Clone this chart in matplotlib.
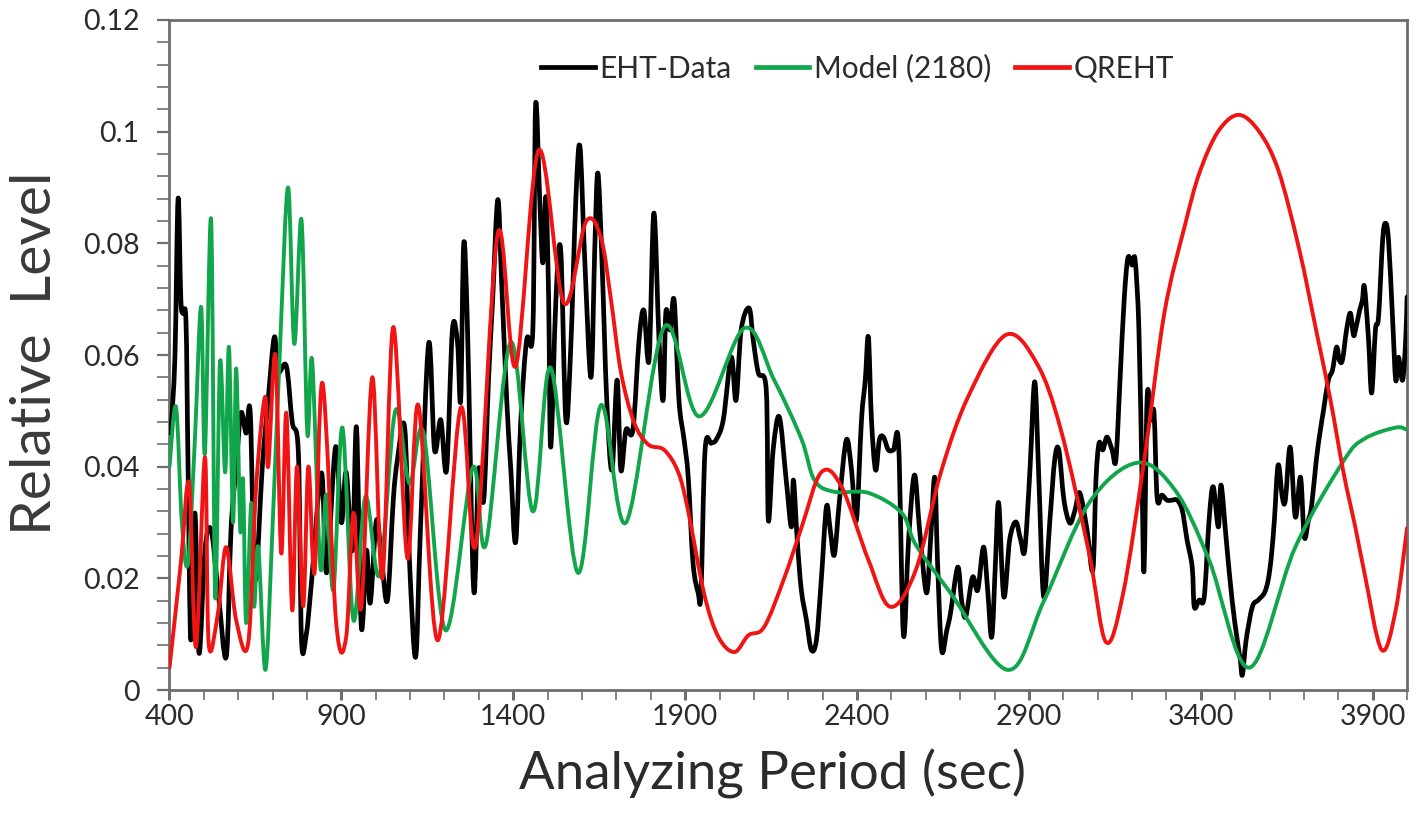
import numpy as np
import matplotlib
matplotlib.use("Agg")
import matplotlib.pyplot as plt
from matplotlib.path import Path
from matplotlib.patches import PathPatch
from matplotlib.lines import Line2D
from matplotlib.ticker import MultipleLocator, FuncFormatter

# ---- EHT data (analyzing period in sec, relative level) ----
eht_x = [404, 416, 425, 433, 439, 448, 454, 462, 474, 486,
         503, 521, 541, 565, 579, 594, 608, 623, 635, 649,
         670, 687, 705, 716, 740, 757, 775, 784, 798, 813,
         842, 857, 883, 900, 914, 932, 944, 958, 973, 984,
         1002, 1017, 1034, 1051, 1063, 1084, 1098, 1116, 1130, 1154,
         1171, 1189, 1206, 1223, 1238, 1247, 1256, 1267, 1285, 1299,
         1314, 1328, 1340, 1355, 1366, 1381, 1393, 1407, 1422, 1439,
         1457, 1465, 1477, 1486, 1495, 1503, 1509, 1524, 1538, 1553,
         1567, 1582, 1594, 1608, 1626, 1637, 1646, 1658, 1672, 1687,
         1702, 1713, 1728, 1748, 1766, 1780, 1795, 1809, 1824, 1836,
         1844, 1856, 1868, 1882, 1897, 1909, 1923, 1938, 1946, 1958,
         1976, 1990, 2011, 2034, 2048, 2063, 2086, 2098, 2113, 2136,
         2142, 2156, 2174, 2194, 2209, 2215, 2226, 2238, 2253, 2267,
         2282, 2296, 2311, 2322, 2334, 2349, 2369, 2384, 2398, 2413,
         2424, 2433, 2442, 2454, 2465, 2477, 2491, 2506, 2521, 2535,
         2550, 2567, 2582, 2602, 2614, 2626, 2634, 2646, 2661, 2672,
         2693, 2704, 2716, 2736, 2751, 2768, 2780, 2792, 2803, 2812,
         2827, 2844, 2862, 2876, 2888, 2903, 2917, 2929, 2943, 2961,
         2975, 2987, 3002, 3019, 3034, 3048, 3069, 3086, 3095, 3104,
         3115, 3127, 3142, 3153, 3165, 3177, 3188, 3200, 3209, 3220,
         3229, 3235, 3244, 3255, 3264, 3273, 3287, 3302, 3316, 3331,
         3346, 3360, 3375, 3381, 3395, 3410, 3424, 3436, 3451, 3459,
         3474, 3491, 3506, 3515, 3521, 3532, 3550, 3567, 3585, 3596,
         3605, 3614, 3625, 3637, 3646, 3660, 3675, 3690, 3701, 3713,
         3722, 3736, 3748, 3757, 3771, 3783, 3795, 3803, 3812, 3824,
         3835, 3844, 3850, 3862, 3870, 3876, 3888, 3897, 3908, 3917,
         3929, 3937, 3946, 3958, 3967, 3975, 3987, 3996, 4000]
eht_y = [0.0460, 0.0600, 0.0880, 0.0700, 0.0675, 0.0660, 0.0400, 0.0090, 0.0317, 0.0066,
         0.0250, 0.0287, 0.0180, 0.0059, 0.0287, 0.0400, 0.0496, 0.0460, 0.0496, 0.0197,
         0.0400, 0.0520, 0.0632, 0.0570, 0.0580, 0.0480, 0.0424, 0.0090, 0.0100, 0.0192,
         0.0389, 0.0210, 0.0435, 0.0300, 0.0390, 0.0250, 0.0470, 0.0113, 0.0250, 0.0156,
         0.0304, 0.0233, 0.0161, 0.0340, 0.0412, 0.0471, 0.0233, 0.0059, 0.0287, 0.0621,
         0.0430, 0.0484, 0.0394, 0.0645, 0.0621, 0.0519, 0.0800, 0.0645, 0.0179, 0.0394,
         0.0340, 0.0555, 0.0698, 0.0878, 0.0734, 0.0519, 0.0394, 0.0265, 0.0484, 0.0627,
         0.0645, 0.1047, 0.0878, 0.0765, 0.0883, 0.0698, 0.0435, 0.0698, 0.0788, 0.0484,
         0.0609, 0.0878, 0.0973, 0.0770, 0.0560, 0.0788, 0.0926, 0.0770, 0.0519, 0.0394,
         0.0555, 0.0394, 0.0466, 0.0466, 0.0627, 0.0680, 0.0591, 0.0854, 0.0627, 0.0519,
         0.0677, 0.0645, 0.0698, 0.0519, 0.0448, 0.0381, 0.0227, 0.0174, 0.0174, 0.0430,
         0.0442, 0.0448, 0.0484, 0.0596, 0.0519, 0.0645, 0.0684, 0.0627, 0.0568, 0.0537,
         0.0304, 0.0430, 0.0489, 0.0376, 0.0292, 0.0376, 0.0269, 0.0179, 0.0125, 0.0072,
         0.0090, 0.0197, 0.0328, 0.0287, 0.0242, 0.0340, 0.0448, 0.0394, 0.0304, 0.0484,
         0.0555, 0.0632, 0.0484, 0.0394, 0.0448, 0.0453, 0.0430, 0.0430, 0.0439, 0.0099,
         0.0269, 0.0385, 0.0287, 0.0174, 0.0269, 0.0381, 0.0233, 0.0072, 0.0107, 0.0138,
         0.0220, 0.0161, 0.0131, 0.0202, 0.0179, 0.0256, 0.0179, 0.0095, 0.0233, 0.0335,
         0.0167, 0.0269, 0.0301, 0.0269, 0.0251, 0.0394, 0.0552, 0.0376, 0.0167, 0.0304,
         0.0412, 0.0430, 0.0340, 0.0299, 0.0322, 0.0353, 0.0287, 0.0215, 0.0376, 0.0442,
         0.0430, 0.0453, 0.0430, 0.0412, 0.0555, 0.0698, 0.0774, 0.0761, 0.0770, 0.0645,
         0.0376, 0.0215, 0.0525, 0.0484, 0.0496, 0.0344, 0.0349, 0.0340, 0.0340, 0.0340,
         0.0322, 0.0269, 0.0220, 0.0149, 0.0161, 0.0167, 0.0304, 0.0364, 0.0292, 0.0367,
         0.0269, 0.0161, 0.0090, 0.0054, 0.0027, 0.0090, 0.0149, 0.0161, 0.0174, 0.0197,
         0.0238, 0.0304, 0.0403, 0.0346, 0.0340, 0.0435, 0.0310, 0.0381, 0.0274, 0.0304,
         0.0328, 0.0412, 0.0466, 0.0501, 0.0555, 0.0573, 0.0614, 0.0591, 0.0591, 0.0645,
         0.0675, 0.0636, 0.0645, 0.0680, 0.0698, 0.0722, 0.0627, 0.0532, 0.0645, 0.0668,
         0.0806, 0.0836, 0.0806, 0.0663, 0.0555, 0.0596, 0.0555, 0.0627, 0.0704]

# ---- Model (2180) ----
model_x = [400, 419, 436, 454, 474, 492, 503, 521, 533, 547,
           562, 573, 585, 594, 606, 614, 623, 638, 646, 658,
           679, 699, 722, 745, 763, 784, 801, 815, 839, 856,
           877, 903, 935, 970, 1011, 1057, 1098, 1139, 1203, 1282,
           1320, 1393, 1457, 1509, 1588, 1655, 1728, 1839, 1941, 2072,
           2159, 2238, 2276, 2334, 2433, 2530, 2571, 2673, 2839, 2944,
           3075, 3215, 3325, 3424, 3541, 3675, 3815, 3876, 3967, 4000]
model_y = [0.0400, 0.0507, 0.0300, 0.0227, 0.0450, 0.0686, 0.0424, 0.0842, 0.0167, 0.0587,
           0.0390, 0.0614, 0.0300, 0.0576, 0.0287, 0.0376, 0.0120, 0.0335, 0.0150, 0.0256,
           0.0036, 0.0280, 0.0620, 0.0900, 0.0620, 0.0842, 0.0460, 0.0590, 0.0220, 0.0350,
           0.0180, 0.0470, 0.0125, 0.0346, 0.0206, 0.0500, 0.0370, 0.0460, 0.0107, 0.0398,
           0.0260, 0.0623, 0.0320, 0.0577, 0.0210, 0.0510, 0.0300, 0.0650, 0.0490, 0.0648,
           0.0555, 0.0450, 0.0376, 0.0355, 0.0353, 0.0317, 0.0260, 0.0173, 0.0036, 0.0160,
           0.0335, 0.0407, 0.0358, 0.0233, 0.0040, 0.0256, 0.0410, 0.0450, 0.0470, 0.0466]

# ---- QREHT ----
qreht_x = [400, 433, 457, 477, 503, 514, 541, 565, 594, 629,
           652, 678, 687, 708, 725, 740, 757, 771, 789, 804,
           822, 845, 885, 914, 935, 958, 990, 1019, 1051, 1092,
           1124, 1180, 1247, 1291, 1355, 1407, 1474, 1547, 1611, 1655,
           1684, 1713, 1751, 1792, 1839, 1880, 1909, 1955, 1996, 2043,
           2084, 2130, 2188, 2238, 2296, 2355, 2433, 2497, 2571, 2644,
           2723, 2833, 2923, 2993, 3075, 3124, 3174, 3235, 3294, 3355,
           3396, 3450, 3510, 3570, 3626, 3686, 3737, 3777, 3815, 3850,
           3876, 3926, 3967, 4000]
qreht_y = [0.0040, 0.0227, 0.0370, 0.0077, 0.0417, 0.0084, 0.0138, 0.0256, 0.0125, 0.0084,
           0.0364, 0.0525, 0.0400, 0.0600, 0.0245, 0.0496, 0.0143, 0.0400, 0.0150, 0.0400,
           0.0210, 0.0550, 0.0120, 0.0095, 0.0317, 0.0149, 0.0560, 0.0200, 0.0650, 0.0236,
           0.0510, 0.0089, 0.0505, 0.0260, 0.0818, 0.0580, 0.0967, 0.0693, 0.0838, 0.0810,
           0.0700, 0.0570, 0.0480, 0.0440, 0.0430, 0.0390, 0.0320, 0.0173, 0.0096, 0.0068,
           0.0098, 0.0113, 0.0200, 0.0290, 0.0390, 0.0364, 0.0233, 0.0149, 0.0215, 0.0390,
           0.0525, 0.0636, 0.0585, 0.0466, 0.0245, 0.0086, 0.0173, 0.0410, 0.0675, 0.0835,
           0.0926, 0.1000, 0.1030, 0.1000, 0.0930, 0.0790, 0.0640, 0.0520, 0.0390, 0.0290,
           0.0210, 0.0072, 0.0143, 0.0290]

x_ticks = [400, 900, 1400, 1900, 2400, 2900, 3400, 3900]
y_ticks = [0, 0.02, 0.04, 0.06, 0.08, 0.1, 0.12]
series_labels = ["EHT-Data", "Model (2180)", "QREHT"]

EHT_COLOR = "#000000"
MODEL_COLOR = "#12a64c"
QREHT_COLOR = "#f01414"
TEXT_COLOR = "#2b2b2b"
SPINE_COLOR = "#6e6e6e"

plt.rcParams["font.family"] = ["Lato", "DejaVu Sans"]


def smooth_line(ax, xs, ys, color, lw, z):
    """Draw a smoothed (Catmull-Rom Bezier) line through the given points."""
    pts = np.column_stack([xs, ys]).astype(float)
    n = len(pts)
    verts = [pts[0]]
    codes = [Path.MOVETO]
    for i in range(n - 1):
        p0 = pts[i - 1] if i > 0 else pts[i]
        p1 = pts[i]
        p2 = pts[i + 1]
        p3 = pts[i + 2] if i + 2 < n else pts[i + 1]
        c1 = p1 + (p2 - p0) / 6.0
        c2 = p2 - (p3 - p1) / 6.0
        verts += [c1, c2, p2]
        codes += [Path.CURVE4] * 3
    patch = PathPatch(Path(verts, codes), facecolor="none", edgecolor=color,
                      lw=lw, zorder=z, capstyle="round", joinstyle="round")
    ax.add_patch(patch)
    patch.set_clip_path(ax.patch)


fig = plt.figure(figsize=(14.23, 8.16), dpi=100)
ax = fig.add_axes([0.1191, 0.1544, 0.8697, 0.8211])

smooth_line(ax, eht_x, eht_y, EHT_COLOR, 3.4, 3)
smooth_line(ax, model_x, model_y, MODEL_COLOR, 2.8, 4)
smooth_line(ax, qreht_x, qreht_y, QREHT_COLOR, 2.8, 5)

ax.set_xlim(400, 4000)
ax.set_ylim(0, 0.12)
ax.set_xticks(x_ticks)
ax.set_yticks(y_ticks)
ax.xaxis.set_minor_locator(MultipleLocator(100))
ax.yaxis.set_minor_locator(MultipleLocator(0.004))
ax.yaxis.set_major_formatter(FuncFormatter(lambda v, p: ("%.2f" % v).rstrip("0").rstrip(".")))

ax.tick_params(axis="both", which="both", direction="out", color=SPINE_COLOR,
               labelcolor=TEXT_COLOR, labelsize=20.5)
ax.tick_params(axis="x", which="major", length=7, width=2.2, pad=3)
ax.tick_params(axis="x", which="minor", length=7, width=1.2)
ax.tick_params(axis="y", which="major", length=8.5, width=1.6, pad=13)
ax.tick_params(axis="y", which="minor", length=8.5, width=1.2)

for s in ax.spines.values():
    s.set_color(SPINE_COLOR)
    s.set_linewidth(2.0)

ax.set_xlabel("Analyzing Period (sec)", fontsize=38, color=TEXT_COLOR)
ax.xaxis.set_label_coords(0.487, -0.087)
ax.set_ylabel("Relative  Level", fontsize=41, color="#3a3a3a")
ax.yaxis.set_label_coords(-0.088, 0.502)

handles = [Line2D([], [], color=EHT_COLOR, lw=3.4),
           Line2D([], [], color=MODEL_COLOR, lw=3.4),
           Line2D([], [], color=QREHT_COLOR, lw=3.4)]
ax.legend(handles, series_labels, loc="center",
          bbox_to_anchor=(0.556, 0.928), ncol=3, frameon=False, fontsize=21.5,
          handlelength=1.8, handletextpad=0.15, columnspacing=0.8,
          labelcolor=TEXT_COLOR)

fig.savefig("out.png", dpi=100, facecolor="white")
